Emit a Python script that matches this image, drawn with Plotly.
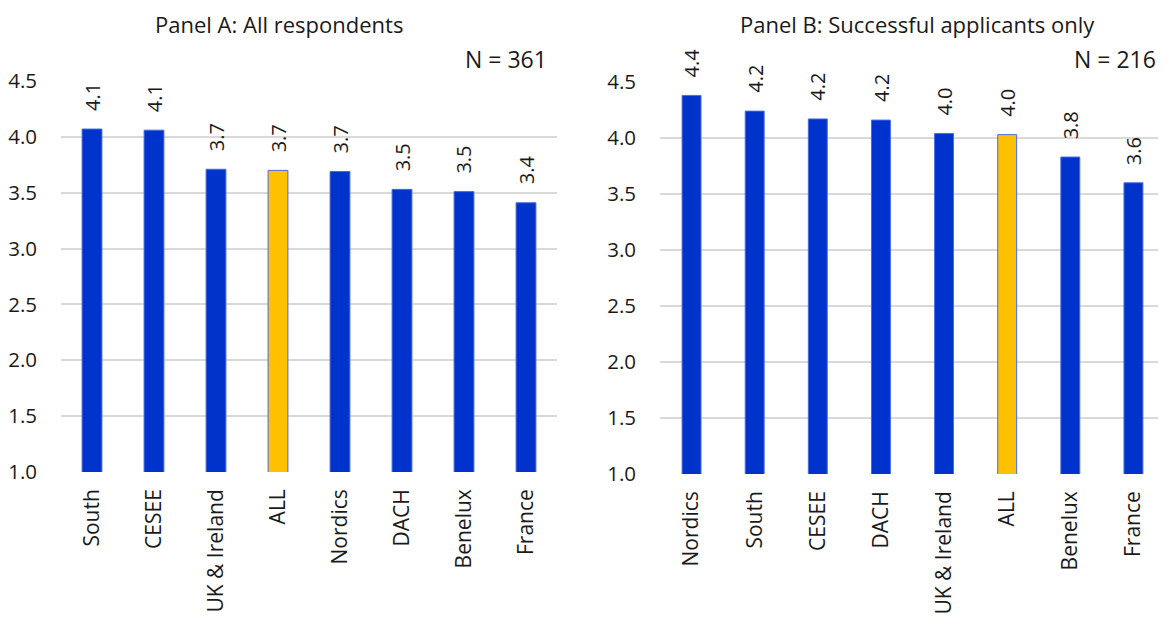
import plotly.graph_objects as go

cats_a = ["South", "CESEE", "UK & Ireland", "ALL", "Nordics", "DACH", "Benelux", "France"]
vals_a = [4.07, 4.06, 3.71, 3.70, 3.69, 3.53, 3.51, 3.41]
cats_b = ["Nordics", "South", "CESEE", "DACH", "UK & Ireland", "ALL", "Benelux", "France"]
vals_b = [4.38, 4.24, 4.17, 4.16, 4.04, 4.03, 3.83, 3.60]
title_a = "Panel A: All respondents"
title_b = "Panel B: Successful applicants only"
n_a = "N = 361"
n_b = "N = 216"

BLUE = "#0033CC"
YELLOW = "#FFC000"
GRID = "#D9D9D9"
TXT = "#1a1a1a"
FONT = "Open Sans"
W, H = 1166, 619
OFF = 8  # page body margin


def px(x):
    return (x - OFF) / W


def py(y):
    return 1 - (y - OFF) / H


def colors(cats):
    return [YELLOW if c == "ALL" else BLUE for c in cats]


fig = go.Figure()
fig.add_trace(go.Bar(x=cats_a, y=vals_a, marker=dict(color=colors(cats_a), line=dict(color="#4a6ae0", width=1)),
                     width=0.32, xaxis="x", yaxis="y", showlegend=False, hoverinfo="x+y"))
fig.add_trace(go.Bar(x=cats_b, y=vals_b, marker=dict(color=colors(cats_b), line=dict(color="#4a6ae0", width=1)),
                     width=0.30, xaxis="x2", yaxis="y2", showlegend=False, hoverinfo="x+y"))

annotations = []
for cats, vals, xr, yr in [(cats_a, vals_a, "x", "y"), (cats_b, vals_b, "x2", "y2")]:
    for c, v in zip(cats, vals):
        annotations.append(dict(x=c, y=v, xref=xr, yref=yr, text=f"{v:.1f}", textangle=-90,
                                showarrow=False, yanchor="bottom", yshift=16,
                                font=dict(family=FONT, size=20, color=TXT)))

annotations += [
    dict(x=px(279), y=py(8), xref="paper", yref="paper", text=title_a, showarrow=False,
         xanchor="center", yanchor="top", borderpad=0, font=dict(family=FONT, size=22, color=TXT)),
    dict(x=px(917), y=py(8), xref="paper", yref="paper", text=title_b, showarrow=False,
         xanchor="center", yanchor="top", borderpad=0, font=dict(family=FONT, size=22, color=TXT)),
    dict(x=px(549), y=py(59), xref="paper", yref="paper", text=n_a, showarrow=False,
         xanchor="right", yanchor="middle", font=dict(family=FONT, size=23, color=TXT)),
    dict(x=px(1158), y=py(59), xref="paper", yref="paper", text=n_b, showarrow=False,
         xanchor="right", yanchor="middle", font=dict(family=FONT, size=23, color=TXT)),
]

xcommon = dict(type="category", tickangle=-90, showgrid=False, zeroline=False, showline=False,
               automargin=False, ticks="", ticklabelstandoff=12,
               tickfont=dict(family=FONT, size=21, color=TXT))
ycommon = dict(range=[1, 4.5], dtick=0.5, tick0=1, tickformat=".1f", showgrid=True, gridcolor=GRID,
               gridwidth=1.5, zeroline=False, showline=False, ticks="", ticklabelstandoff=23,
               automargin=False, tickfont=dict(family=FONT, size=20.5, color=TXT))

fig.update_layout(
    width=W, height=H,
    autosize=False,
    margin=dict(l=0, r=0, t=0, b=0, pad=0),
    paper_bgcolor="white", plot_bgcolor="white",
    xaxis=dict(domain=[px(61), px(557)], anchor="y", **xcommon),
    yaxis=dict(domain=[py(472), py(81)], anchor="x", **ycommon),
    xaxis2=dict(domain=[px(660), px(1165)], anchor="y2", **xcommon),
    yaxis2=dict(domain=[py(474), py(82)], anchor="x2", **ycommon),
    annotations=annotations,
)

fig.write_html("out.html")
